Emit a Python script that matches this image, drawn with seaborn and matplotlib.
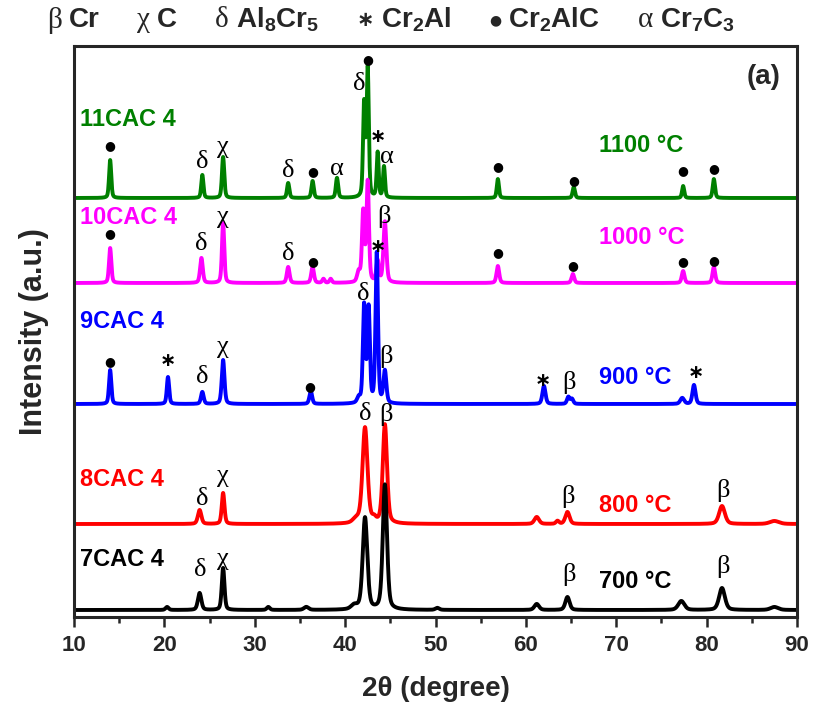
import numpy as np
import pandas as pd
import matplotlib
matplotlib.use("Agg")
import matplotlib.pyplot as plt
import seaborn as sns

# ---- samples (bottom to top) ----
samples = ["7CAC 4", "8CAC 4", "9CAC 4", "10CAC 4", "11CAC 4"]
temperatures = ["700 °C", "800 °C", "900 °C", "1000 °C", "1100 °C"]
colors = ["#000000", "#FF0000", "#0000FF", "#FF00FF", "#008000"]
baselines = [7, 93, 213, 334, 419]

# ---- reflections: (2θ, height above baseline, FWHM) ----
peaks_700 = [(20.3, 3, 0.4), (23.9, 17, 0.45), (26.5, 42, 0.35), (31.5, 3, 0.4),
             (35.7, 3, 0.6), (41.0, 4, 0.8), (42.2, 92, 0.6), (44.4, 125, 0.55),
             (50.2, 2, 0.5), (61.2, 6, 0.6), (64.6, 13, 0.55), (77.2, 9, 0.8),
             (81.7, 22, 0.75), (87.5, 3, 1.0)]
peaks_800 = [(23.9, 14, 0.45), (26.5, 31, 0.35), (41.2, 4, 0.8), (42.2, 96, 0.65),
             (43.2, 4, 0.5), (44.4, 99, 0.55), (61.2, 7, 0.6), (63.5, 3, 0.4),
             (64.6, 12, 0.55), (81.7, 18, 0.75), (87.5, 3, 1.2)]
peaks_900 = [(14.0, 34, 0.3), (20.4, 27, 0.3), (24.2, 12, 0.35), (26.5, 44, 0.35),
             (36.2, 13, 0.35), (41.5, 5, 0.4), (42.1, 97, 0.32), (42.6, 94, 0.32),
             (43.5, 150, 0.32), (44.4, 32, 0.38), (62.0, 18, 0.4), (64.7, 7, 0.35),
             (65.1, 5, 0.35), (77.3, 6, 0.5), (78.6, 19, 0.4)]
peaks_1000 = [(14.0, 35, 0.3), (24.1, 25, 0.35), (26.5, 60, 0.3), (33.7, 16, 0.35),
              (36.4, 16, 0.35), (37.6, 4, 0.3), (38.4, 4, 0.3), (41.5, 10, 0.4),
              (42.0, 70, 0.32), (42.5, 100, 0.32), (43.6, 21, 0.35), (44.4, 61, 0.38),
              (56.9, 17, 0.35), (65.2, 9, 0.35), (77.4, 12, 0.35), (80.8, 16, 0.35)]
peaks_1100 = [(14.0, 38, 0.28), (24.2, 23, 0.28), (26.5, 41, 0.3), (33.7, 15, 0.3),
              (36.4, 17, 0.3), (39.1, 20, 0.3), (42.1, 93, 0.28), (42.5, 128, 0.28),
              (43.6, 45, 0.26), (44.3, 31, 0.26), (56.9, 19, 0.28), (65.3, 11, 0.3),
              (77.4, 12, 0.28), (80.8, 19, 0.3)]
peak_tables = [peaks_700, peaks_800, peaks_900, peaks_1000, peaks_1100]

# ---- phase labels over the reflections: (2θ, height, symbol) ----
marks_700 = [(24.0, 47, "δ"), (26.5, 58, "χ"), (64.8, 43, "β"), (81.8, 50, "β")]
marks_800 = [(24.2, 118, "δ"), (26.5, 141, "χ"), (42.2, 203, "δ"), (44.5, 203, "β"),
             (64.7, 121, "β"), (81.8, 126, "β")]
marks_900 = [(13.9, 255, "●"), (20.4, 256, "∗"), (24.2, 240, "δ"), (26.5, 270, "χ"),
             (36.1, 230, "●"), (42.0, 323, "δ"), (44.5, 261, "β"), (61.9, 236, "∗"),
             (64.8, 235, "β"), (78.8, 245, "∗")]
marks_1000 = [(13.9, 383, "●"), (24.1, 373, "δ"), (26.5, 400, "χ"), (33.7, 363, "δ"),
              (36.4, 355, "●"), (43.6, 371, "∗"), (44.3, 400, "β"), (56.9, 364, "●"),
              (65.2, 351, "●"), (77.4, 355, "●"), (80.8, 356, "●")]
marks_1100 = [(13.9, 471, "●"), (24.2, 455, "δ"), (26.5, 470, "χ"), (33.7, 446, "δ"),
              (36.4, 445, "●"), (39.1, 448, "α"), (41.6, 533, "δ"), (42.5, 557, "●"),
              (43.6, 481, "∗"), (44.6, 460, "α"), (56.9, 450, "●"), (65.3, 436, "●"),
              (77.4, 446, "●"), (80.8, 448, "●")]
mark_tables = [marks_700, marks_800, marks_900, marks_1000, marks_1100]

# ---- phase key ----
phase_symbols = ["β", "χ", "δ", "∗", "●", "α"]
phase_names = ["Cr", "C", r"Al$_8$Cr$_5$", r"Cr$_2$Al", r"Cr$_2$AlC", r"Cr$_7$C$_3$"]

x_ticks = [10, 20, 30, 40, 50, 60, 70, 80, 90]


def profile(tt, center, height, fwhm):
    """Pseudo-Voigt line shape."""
    s = fwhm / 2.3548
    g = np.exp(-0.5 * ((tt - center) / s) ** 2)
    lz = 1.0 / (1.0 + ((tt - center) / (fwhm / 2)) ** 2)
    return height * (0.6 * g + 0.4 * lz)


two_theta = np.linspace(10, 90, 4001)
frames = []
for name, base, table in zip(samples, baselines, peak_tables):
    y = np.full_like(two_theta, float(base))
    for c, h, w in table:
        y += profile(two_theta, c, h, w)
    frames.append(pd.DataFrame({"two_theta": two_theta, "intensity": y, "sample": name}))
df = pd.concat(frames, ignore_index=True)

sns.set_style("ticks")
plt.rcParams["font.family"] = ["Liberation Sans", "DejaVu Sans"]
plt.rcParams["mathtext.fontset"] = "custom"
plt.rcParams["mathtext.rm"] = "Liberation Sans:bold"
plt.rcParams["mathtext.it"] = "Liberation Sans:bold"
plt.rcParams["mathtext.bf"] = "Liberation Sans:bold"

W, H = 813, 711
fig = plt.figure(figsize=(W / 100, H / 100), dpi=100)
ax = fig.add_axes([74 / W, 1 - 617 / H, (797 - 74) / W, (617 - 46) / H])

sns.lineplot(data=df, x="two_theta", y="intensity", hue="sample",
             hue_order=samples[::-1], palette=dict(zip(samples, colors)),
             estimator=None, sort=False, legend=False, linewidth=2.8, ax=ax)

ax.set_xlim(10, 90)
ax.set_ylim(0, 571)
ax.set_xticks(x_ticks)
ax.set_xticks(np.arange(15, 90, 10), minor=True)
ax.set_yticks([])
ax.tick_params(axis="x", which="major", direction="out", length=7, width=1.8,
               labelsize=16, pad=6)
ax.tick_params(axis="x", which="minor", direction="out", length=4, width=1.8)
for lab in ax.get_xticklabels():
    lab.set_fontweight("bold")
for sp in ax.spines.values():
    sp.set_linewidth(2.2)
    sp.set_visible(True)

ax.set_xlabel("2θ (degree)", fontsize=20, fontweight="bold", labelpad=14)
ax.set_ylabel("Intensity (a.u.)", fontsize=22, fontweight="bold", labelpad=18)

# sample names and annealing temperatures
name_y = [57, 138, 295, 400, 497]
temp_y = [36, 112, 239, 379, 472]
for name, temp, col, ny, ty in zip(samples, temperatures, colors, name_y, temp_y):
    ax.text(10.7, ny, name, color=col, fontsize=17, fontweight="bold", va="center", ha="left")
    ax.text(68.1, ty, temp, color=col, fontsize=17, fontweight="bold", va="center", ha="left")

# phase identification marks
for table in mark_tables:
    for x, y, s in table:
        if s == "●":
            ax.text(x, y, s, fontsize=9, ha="center", va="center", color="black",
                    family="DejaVu Sans")
        elif s == "∗":
            ax.text(x, y, s, fontsize=14, ha="center", va="center", color="black",
                    family="DejaVu Sans", fontweight="bold")
        else:
            ax.text(x, y, s, fontsize=19, ha="center", va="center", color="black",
                    family="Liberation Serif")

ax.text(86.3, 540, "(a)", fontsize=20, fontweight="bold", ha="center", va="center")

# phase key above the frame: symbol + name groups spread between two edges
renderer = fig.canvas.get_renderer()
yk = 1 - 20 / H
key_left, key_right, inner_gap = 47, 735, 7
pieces = []
for sym, nm in zip(phase_symbols, phase_names):
    if sym == "●":
        s_txt = fig.text(0, yk, sym, fontsize=10, ha="left", va="center", family="DejaVu Sans")
    elif sym == "∗":
        s_txt = fig.text(0, yk, sym, fontsize=15, ha="left", va="center",
                         family="DejaVu Sans", fontweight="bold")
    else:
        s_txt = fig.text(0, yk, sym, fontsize=21, ha="left", va="center",
                         family="Liberation Serif")
    n_txt = fig.text(0, yk, nm, fontsize=20, fontweight="bold", ha="left", va="center")
    sw = s_txt.get_window_extent(renderer).width
    nw = n_txt.get_window_extent(renderer).width
    pieces.append((s_txt, n_txt, sw, nw))

total = sum(sw + inner_gap + nw for _, _, sw, nw in pieces)
group_gap = (key_right - key_left - total) / (len(pieces) - 1)
xpos = key_left
for s_txt, n_txt, sw, nw in pieces:
    s_txt.set_x(xpos / W)
    n_txt.set_x((xpos + sw + inner_gap) / W)
    xpos += sw + inner_gap + nw + group_gap

fig.savefig("out.png", dpi=100)
